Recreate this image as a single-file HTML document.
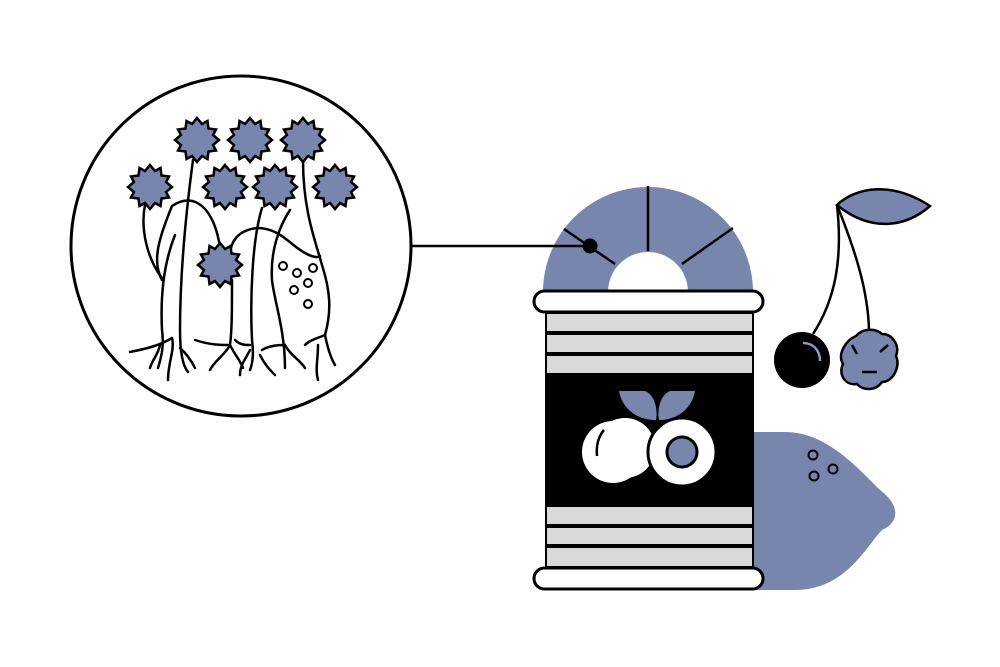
<!DOCTYPE html>
<html><head><meta charset="utf-8"><style>html,body{margin:0;padding:0;background:#fff}svg{display:block}</style></head>
<body>
<svg width="1000" height="667" viewBox="0 0 1000 667" xmlns="http://www.w3.org/2000/svg">
<defs>
<g id="star"><polygon fill="#7886ae" stroke="#000" stroke-width="2.5" stroke-linejoin="miter" points="0,-22 5,-16 10.5,-19 11.5,-11.5 19,-10.5 16,-5 22,0 16,5 19,10.5 11.5,11.5 10.5,19 5,16 0,22 -5,16 -10.5,19 -11.5,11.5 -19,10.5 -16,5 -22,0 -16,-5 -19,-10.5 -11.5,-11.5 -10.5,-19 -5,-16"/></g>
</defs>
<!-- lemon -->
<path d="M740,432 L785,432 C825,432 855,465 880,490 C900,505 900,522 882,530 C865,548 845,590 795,590 L740,590 Z" fill="#7886ae"/>
<circle cx="813" cy="455" r="4.5" fill="none" stroke="#000" stroke-width="2"/>
<circle cx="833" cy="469" r="4.5" fill="none" stroke="#000" stroke-width="2"/>
<circle cx="814" cy="476" r="4.5" fill="none" stroke="#000" stroke-width="2"/>
<!-- arch -->
<path d="M543,292 A105,105 0 0 1 753,292 Z" fill="#7886ae"/>
<path d="M608,292 A40,40 0 0 1 688,292 Z" fill="#fff"/>
<g stroke="#000" stroke-width="2.5">
<line x1="648" y1="186" x2="648" y2="251"/>
<line x1="564" y1="229" x2="615" y2="264"/>
<line x1="733" y1="228" x2="682" y2="264"/>
<line x1="412" y1="246" x2="590" y2="246"/>
</g>
<circle cx="590" cy="246" r="7.5" fill="#000"/>
<!-- can -->
<rect x="545" y="311" width="209" height="258" fill="#000"/>
<g fill="#d9d9d9">
<rect x="547" y="314" width="205" height="17"/>
<rect x="547" y="335" width="205" height="17"/>
<rect x="547" y="356" width="205" height="17"/>
<rect x="547" y="507" width="205" height="17"/>
<rect x="547" y="528" width="205" height="16"/>
<rect x="547" y="548" width="205" height="18"/>
</g>
<rect x="534" y="291" width="229" height="21" rx="10.5" fill="#fff" stroke="#000" stroke-width="3"/>
<rect x="534" y="568" width="229" height="21" rx="10.5" fill="#fff" stroke="#000" stroke-width="3"/>
<!-- label fruit -->
<path d="M619,391 L645,391 C655,395 658,410 656,420 C636,420 622,408 619,391 Z" fill="#7886ae"/>
<path d="M695,391 L670,391 C660,395 657,410 659,420 C678,420 692,408 695,391 Z" fill="#7886ae"/>
<circle cx="613" cy="452" r="31" fill="#fff"/>
<circle cx="625" cy="448" r="30" fill="#fff"/>
<path d="M604,430 C598,437 596,445 597,456" fill="none" stroke="#000" stroke-width="2.5"/>
<circle cx="682" cy="452" r="34" fill="#fff" stroke="#000" stroke-width="3"/>
<circle cx="682" cy="452" r="15" fill="#7886ae" stroke="#000" stroke-width="3"/>
<!-- cherries -->
<path d="M837,205 C855,188 890,180 930,206 C905,228 870,232 837,205 Z" fill="#7886ae" stroke="#000" stroke-width="2.5"/>
<path d="M837,205 C843,260 835,300 813,334" fill="none" stroke="#000" stroke-width="2.5"/>
<path d="M837,205 C855,250 868,290 869,330" fill="none" stroke="#000" stroke-width="2.5"/>
<circle cx="802" cy="360" r="28" fill="#000"/>
<path d="M803,343 C813,343 820,350 820,361" fill="none" stroke="#8a97c0" stroke-width="2.5"/>
<path d="M856,336 C864,327 877,329 882,334 C893,334 900,346 896,356 C901,366 893,382 882,382 C875,392 862,390 857,384 C845,386 838,374 843,364 C837,354 846,340 856,336 Z" fill="#7886ae" stroke="#000" stroke-width="2.5"/>
<g stroke="#000" stroke-width="2.5"><line x1="852" y1="345" x2="857" y2="354"/><line x1="888" y1="345" x2="880" y2="352"/><line x1="862" y1="372" x2="877" y2="372"/></g>
<!-- left circle -->
<circle cx="241" cy="246" r="170" fill="#fff" stroke="#000" stroke-width="3"/>
<g fill="none" stroke="#000" stroke-width="2.5" stroke-linecap="round">
<path d="M193,160 C185,220 180,280 180,330 C180,350 182,365 188,372"/>
<path d="M145,205 C140,230 148,260 162,278"/>
<path d="M162,280 C152,262 158,240 172,206 C195,190 215,210 220,248"/>
<path d="M175,235 C165,260 160,290 162,330 C164,345 162,355 158,368"/>
<path d="M230,262 C228,240 240,230 257,228 C280,228 290,245 305,253 C312,257 318,258 320,256"/>
<path d="M232,280 C232,310 232,330 230,345"/>
<path d="M262,208 C252,240 250,300 252,340 C254,355 252,365 250,370"/>
<path d="M290,210 C280,225 270,250 272,280 C274,300 285,330 285,368"/>
<path d="M303,160 C303,210 315,240 322,265 C330,290 332,310 325,335"/>
<path d="M130,352 C150,348 160,345 172,338 M160,345 C158,355 152,360 150,368 M172,338 C175,350 168,362 168,380 M180,348 C188,355 192,362 195,368"/>
<path d="M195,340 C210,345 220,345 230,345 M230,345 C225,355 215,360 210,370 M230,345 C235,355 240,360 243,368"/>
<path d="M235,340 C240,345 245,345 250,345 M250,350 C245,360 240,365 240,375"/>
<path d="M262,350 C270,345 280,345 285,345 M285,345 C290,355 300,360 305,368 M260,355 C265,365 270,370 275,375"/>
<path d="M305,345 C310,340 318,338 325,335 M325,335 C328,350 332,360 335,365 M318,345 C318,360 315,370 318,380"/>
</g>
<g fill="none" stroke="#000" stroke-width="2">
<circle cx="283" cy="266" r="4"/><circle cx="297" cy="273" r="4"/><circle cx="313" cy="268" r="4"/>
<circle cx="308" cy="283" r="4"/><circle cx="294" cy="290" r="4"/><circle cx="308" cy="304" r="4"/>
</g>
<use href="#star" x="197" y="140"/>
<use href="#star" x="250" y="140"/>
<use href="#star" x="303" y="140"/>
<use href="#star" x="150" y="187"/>
<use href="#star" x="225" y="187"/>
<use href="#star" x="275" y="187"/>
<use href="#star" x="335" y="187"/>
<use href="#star" x="220" y="265"/>
</svg>
</body></html>
